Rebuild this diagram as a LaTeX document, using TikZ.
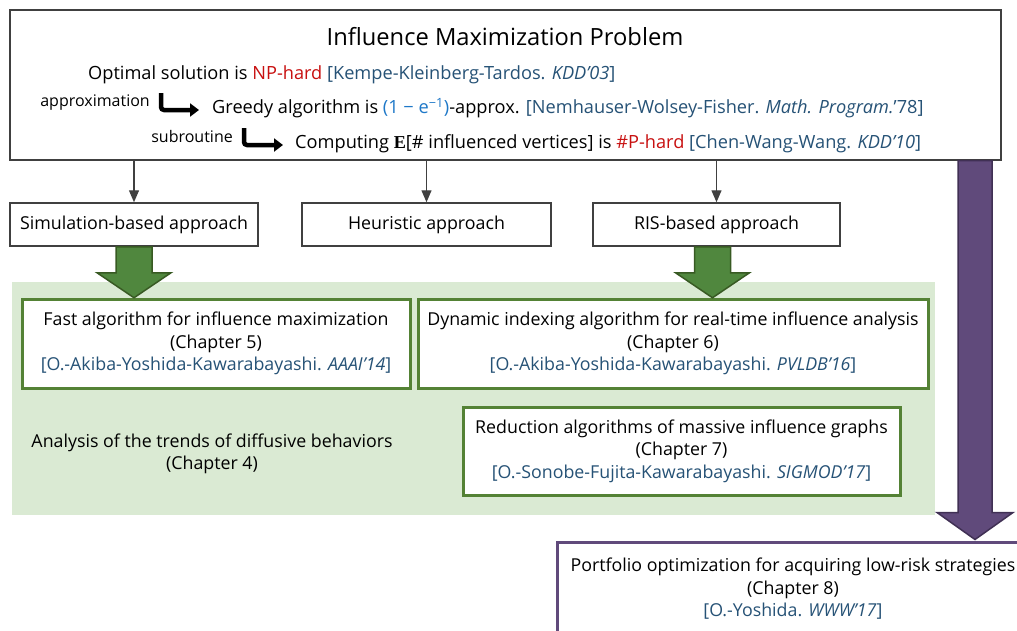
\documentclass[tikz,border=0pt]{standalone}
\usepackage{fontspec}
\setmainfont{Open Sans}
\newfontfamily\serifE{Liberation Serif}
\usetikzlibrary{arrows.meta,positioning,calc}

\definecolor{boxgray}{RGB}{64,64,64}
\definecolor{citeblue}{RGB}{38,82,118}
\definecolor{nphard}{RGB}{200,16,16}
\definecolor{approxblue}{RGB}{30,120,200}
\definecolor{bggreen}{RGB}{218,234,211}
\definecolor{boxgreen}{RGB}{84,130,53}
\definecolor{arrowgreen}{RGB}{80,135,62}
\definecolor{darkgreen}{RGB}{56,90,35}
\definecolor{boxpurple}{RGB}{96,74,123}
\definecolor{darkpurple}{RGB}{64,48,84}

\newcommand{\paper}[1]{\textcolor{citeblue}{#1}}

\begin{document}
\begin{tikzpicture}[x=1pt,y=-1pt,font=\fontsize{17.8}{22.5}\selectfont,
    plainbox/.style={draw=boxgray,line width=1.5pt,fill=white,align=center},
    chapbox/.style={draw=boxgreen,line width=3pt,fill=white,align=center,inner sep=0pt},
    line/.style={anchor=west,inner sep=0pt,font=\fontsize{18.2}{22}\selectfont},
    label/.style={anchor=east,inner sep=0pt,font=\fontsize{16}{19}\selectfont},
    thin/.style={draw=boxgray,line width=1.3pt,-{Triangle[length=12pt,width=10pt]}},
    hook/.style={line width=4.5pt,rounded corners=3pt,-{Triangle[length=9pt,width=13pt]}}]
    \useasboundingbox (0,0) rectangle (1017,630);

    % top box
    \node[plainbox,minimum width=991,minimum height=150,inner sep=0pt] (imp) at (505.5,85) {};
    \node[font=\fontsize{23.7}{28}\selectfont] (title) at (505,37) {Influence Maximization Problem};
    \node[line] (opt) at (88,75)
        {Optimal solution is \textcolor{nphard}{NP-hard} \paper{[Kempe-Kleinberg-Tardos. \textit{KDD'03}]}};
    \node[line] (greedy) at (212,108)
        {Greedy algorithm is \textcolor{approxblue}{(1 − e\textsuperscript{−1})}-approx. \paper{[Nemhauser-Wolsey-Fisher. \textit{Math. Program.}'78]}};
    \node[line] (comp) at (295,144)
        {Computing {\serifE\bfseries E}[\# influenced vertices] is \textcolor{nphard}{\#P-hard} \paper{[Chen-Wang-Wang. \textit{KDD'10}]}};
    \node[label] (approx) at (150,103) {approximation};
    \node[label] (sub) at (233,136) {subroutine};
    \coordinate (hk1) at (161,93);
    \coordinate (hk2) at (244,128);
    \draw[hook] (hk1) |- ([xshift=-13pt,yshift=-2pt]greedy.west);
    \draw[hook] (hk2) |- ([xshift=-12pt,yshift=-1pt]comp.west);

    % approaches
    \node[plainbox,minimum width=248,minimum height=43] (sim) at (134,224.5) {Simulation-based approach};
    \node[plainbox,minimum width=249,minimum height=43] (heur) at (426.5,224.5) {Heuristic approach};
    \node[plainbox,minimum width=247,minimum height=43] (ris) at (716.5,224.5) {RIS-based approach};
    \draw[thin] (sim.north |- imp.south) -- (sim.north);
    \draw[thin] (heur.north |- imp.south) -- (heur.north);
    \draw[thin] (ris.north |- imp.south) -- (ris.north);

    % green area
    \fill[bggreen] (12,282) rectangle (935,515);
    \node[chapbox,minimum width=388,minimum height=89] (ch5) at (216,343.5)
        {Fast algorithm for influence maximization\\(Chapter 5)\\\paper{[O.-Akiba-Yoshida-Kawarabayashi. \textit{AAAI'14}]}};
    \node[chapbox,minimum width=510,minimum height=89] (ch6) at (673,343.5)
        {Dynamic indexing algorithm for real-time influence analysis\\(Chapter 6)\\\paper{[O.-Akiba-Yoshida-Kawarabayashi. \textit{PVLDB'16}]}};
    \node[chapbox,minimum width=437,minimum height=88] (ch7) at (681.5,451)
        {Reduction algorithms of massive influence graphs\\(Chapter 7)\\\paper{[O.-Sonobe-Fujita-Kawarabayashi. \textit{SIGMOD'17}]}};
    \node[align=center] (ch4) at (212,454)
        {Analysis of the trends of diffusive behaviors\\(Chapter 4)};

    % fat green arrows
    \draw[fill=arrowgreen,draw=darkgreen,line width=1.5pt,line join=miter]
        (sim.south) ++(-18,0) -- ++(0,26) -- ++(-19,0) -- ++(37,25) -- ++(37,-25) -- ++(-19,0) -- ++(0,-26) -- cycle;
    \draw[fill=arrowgreen,draw=darkgreen,line width=1.5pt,line join=miter]
        (ris.south) ++(-22,0) -- ++(0,26) -- ++(-19,0) -- ++(37,25) -- ++(37,-25) -- ++(-19,0) -- ++(0,-26) -- cycle;

    % purple arrow and chapter 8
    \coordinate (pa) at (975,160.5);
    \draw[fill=boxpurple,draw=darkpurple,line width=1.5pt,line join=miter]
        (pa) ++(-17,0) -- ++(0,352) -- ++(-21,0) -- ++(38,27) -- ++(38,-27) -- ++(-21,0) -- ++(0,-352) -- cycle;
    \node[draw=boxpurple,line width=3pt,fill=white,align=center,minimum width=472,minimum height=94,inner sep=0pt] (ch8) at (793,589)
        {Portfolio optimization for acquiring low-risk strategies\\(Chapter 8)\\\paper{[O.-Yoshida. \textit{WWW'17}]}};
\end{tikzpicture}
\end{document}
